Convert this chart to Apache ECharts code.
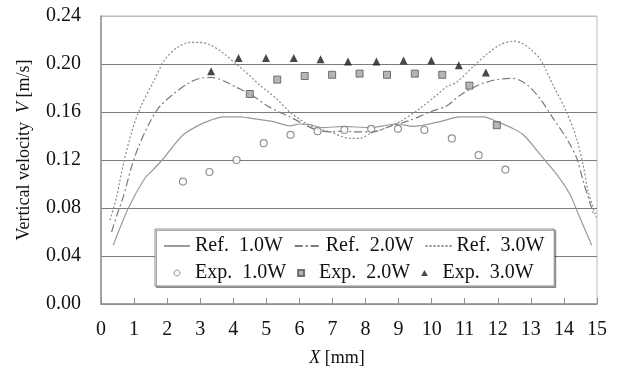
<!DOCTYPE html>
<html>
<head>
<meta charset="utf-8">
<script src="https://cdn.jsdelivr.net/npm/echarts@6/dist/echarts.min.js"></script>
<style>
  html, body { margin: 0; padding: 0; background: #fff; }
  #chart { width: 617px; height: 372px; }
</style>
</head>
<body>
<div id="chart"></div>
<script>
// Simulated vertical velocity profiles: X [mm], V [m/s]
const ref1X = [0.37, 0.83, 1.33, 1.58, 1.85, 2.14, 2.49, 2.89, 3.30, 3.70, 4.20, 4.71, 5.21, 5.71, 6.02, 6.32, 6.72, 7.33, 8.13, 8.94, 9.44, 10.25, 10.86, 11.56, 11.97, 12.40, 12.77, 13.30, 13.78, 14.18, 14.48, 14.84];
const ref1V = [0.049, 0.080, 0.105, 0.112, 0.120, 0.130, 0.141, 0.148, 0.153, 0.156, 0.156, 0.154, 0.152, 0.1485, 0.150, 0.1495, 0.147, 0.148, 0.147, 0.150, 0.148, 0.152, 0.156, 0.156, 0.152, 0.147, 0.141, 0.124, 0.108, 0.0915, 0.072, 0.049];

const ref2X = [0.32, 0.48, 0.67, 0.91, 1.12, 1.43, 1.73, 2.19, 2.69, 2.99, 3.35, 3.70, 4.10, 4.51, 5.01, 5.31, 5.71, 6.12, 6.52, 6.92, 7.33, 7.60, 8.23, 8.74, 9.34, 9.95, 10.45, 10.86, 11.46, 11.97, 12.47, 12.87, 13.28, 13.68, 14.08, 14.38, 14.58, 14.78, 14.88];
const ref2V = [0.060, 0.074, 0.089, 0.113, 0.130, 0.149, 0.163, 0.175, 0.1847, 0.188, 0.1888, 0.186, 0.1805, 0.175, 0.1655, 0.161, 0.156, 0.150, 0.145, 0.1435, 0.144, 0.1435, 0.1435, 0.148, 0.153, 0.160, 0.165, 0.174, 0.183, 0.187, 0.188, 0.183, 0.171, 0.1545, 0.138, 0.122, 0.1025, 0.085, 0.076];

const ref3X = [0.27, 0.47, 0.67, 0.93, 1.18, 1.58, 1.94, 2.29, 2.69, 2.99, 3.30, 3.70, 4.10, 4.51, 4.81, 5.01, 5.31, 5.71, 6.12, 6.52, 6.92, 7.53, 7.83, 8.13, 8.44, 9.04, 9.65, 10.15, 10.45, 10.76, 11.26, 11.66, 12.07, 12.47, 12.72, 13.00, 13.28, 13.68, 14.08, 14.38, 14.58, 14.73, 14.98];
const ref3V = [0.070, 0.089, 0.116, 0.1435, 0.163, 0.185, 0.204, 0.2134, 0.218, 0.218, 0.216, 0.209, 0.1997, 0.190, 0.182, 0.178, 0.171, 0.160, 0.152, 0.1463, 0.1435, 0.138, 0.138, 0.142, 0.145, 0.152, 0.163, 0.174, 0.181, 0.185, 0.198, 0.208, 0.216, 0.219, 0.2175, 0.212, 0.204, 0.182, 0.160, 0.138, 0.116, 0.094, 0.072];

// Measured points
const exp1X = [2.48, 3.28, 4.10, 4.92, 5.73, 6.55, 7.36, 8.17, 8.98, 9.78, 10.61, 11.42, 12.23];
const exp1V = [0.102, 0.110, 0.120, 0.134, 0.141, 0.144, 0.145, 0.146, 0.146, 0.145, 0.138, 0.124, 0.112];

const exp2X = [4.50, 5.33, 6.16, 6.99, 7.82, 8.65, 9.49, 10.32, 11.14, 11.97];
const exp2V = [0.175, 0.187, 0.190, 0.191, 0.192, 0.191, 0.192, 0.191, 0.182, 0.149];

const exp3X = [3.33, 4.16, 4.99, 5.83, 6.64, 7.47, 8.33, 9.15, 9.99, 10.82, 11.64];
const exp3V = [0.194, 0.205, 0.205, 0.205, 0.204, 0.202, 0.202, 0.203, 0.203, 0.199, 0.193];

const seriesNames = ['Ref.  1.0W', 'Ref.  2.0W', 'Ref.  3.0W', 'Exp.  1.0W', 'Exp.  2.0W', 'Exp.  3.0W'];

// Axis ticks
const xMin = 0, xMax = 15, xStep = 1;
const yMin = 0, yMax = 0.24, yStep = 0.04;

const FONT = '"Liberation Serif", "Times New Roman", serif';

// Legend marker shapes (kept square by the legend so they stay small)
const ICON_CIRCLE = 'path://M5,0C7.76,0,10,2.24,10,5C10,7.76,7.76,10,5,10C2.24,10,0,7.76,0,5C0,2.24,2.24,0,5,0Z';
const ICON_SQUARE = 'path://M0,0H10V10H0Z';
const ICON_TRIANGLE = 'path://M5,0L10,9H0Z';

function pairs(xs, ys) {
  return xs.map((x, i) => [x, ys[i]]);
}

function refLine(name, xs, ys, color, dash) {
  return {
    name: name,
    type: 'line',
    data: pairs(xs, ys),
    symbol: 'none',
    showSymbol: false,
    smooth: 0.3,
    z: 2,
    lineStyle: { color: color, width: 1.2, type: dash },
    itemStyle: { color: color }
  };
}

function expPoints(name, xs, ys, symbol, size, itemStyle) {
  return {
    name: name,
    type: 'scatter',
    data: pairs(xs, ys),
    symbol: symbol,
    symbolSize: size,
    z: 3,
    itemStyle: itemStyle
  };
}

const chart = echarts.init(document.getElementById('chart'), null, { renderer: 'canvas' });

chart.setOption({
  backgroundColor: '#fff',
  animation: false,
  grid: {
    left: 101, right: 20, top: 16, bottom: 64,
    show: true,
    borderColor: '#bdbdbd',
    borderWidth: 1
  },
  legend: {
    data: [
      { name: seriesNames[0], itemStyle: { opacity: 0 } },
      { name: seriesNames[1], itemStyle: { opacity: 0 } },
      { name: seriesNames[2], itemStyle: { opacity: 0 } },
      { name: seriesNames[3], icon: ICON_CIRCLE, itemStyle: { borderWidth: 1 } },
      { name: seriesNames[4], icon: ICON_SQUARE },
      { name: seriesNames[5], icon: ICON_TRIANGLE }
    ],
    left: 155,
    top: 229,
    width: 400,
    orient: 'horizontal',
    itemWidth: 26,
    itemHeight: 6,
    itemGap: 7,
    symbolKeepAspect: true,
    padding: [7, 6, 3, 8],
    backgroundColor: '#fff',
    borderColor: '#8c8c8c',
    borderWidth: 1,
    shadowColor: 'rgba(0,0,0,0.35)',
    shadowOffsetX: 1.5,
    shadowOffsetY: 1.5,
    shadowBlur: 0,
    textStyle: {
      fontFamily: FONT,
      fontSize: 20,
      lineHeight: 20,
      color: '#111',
      padding: [0, 4, 0, 0]
    }
  },
  xAxis: {
    type: 'value',
    min: xMin,
    max: xMax,
    interval: xStep,
    name: '{i|X} [mm]',
    nameLocation: 'middle',
    nameGap: 45,
    nameTextStyle: {
      fontFamily: FONT,
      fontSize: 18,
      color: '#111',
      padding: [0, 24, 0, 0],
      rich: {
        i: { fontFamily: FONT, fontSize: 18, fontStyle: 'italic', color: '#111' }
      }
    },
    axisLine: { show: true, lineStyle: { color: '#909090', width: 1.5 } },
    axisTick: { show: true, inside: true, length: 6, lineStyle: { color: '#909090', width: 1 } },
    axisLabel: { fontFamily: FONT, fontSize: 20, color: '#111', margin: 16 },
    splitLine: { show: false }
  },
  yAxis: {
    type: 'value',
    min: yMin,
    max: yMax,
    interval: yStep,
    name: '{n|Vertical velocity}  {i|V} {n|[m/s]}',
    nameLocation: 'middle',
    nameGap: 68,
    nameTextStyle: {
      fontFamily: FONT,
      fontSize: 18,
      color: '#111',
      padding: [0, 0, 0, 20],
      rich: {
        n: { fontFamily: FONT, fontSize: 18, color: '#111' },
        i: { fontFamily: FONT, fontSize: 18, fontStyle: 'italic', color: '#111' }
      }
    },
    axisLine: { show: true, lineStyle: { color: '#909090', width: 1.5 } },
    axisTick: { show: false },
    axisLabel: {
      fontFamily: FONT, fontSize: 20, color: '#111', margin: 20,
      formatter: v => v.toFixed(2)
    },
    splitLine: {
      show: true,
      lineStyle: {
        color: ['#909090', '#7c7c7c', '#7c7c7c', '#7c7c7c', '#7c7c7c', '#7c7c7c', '#bdbdbd'],
        width: 1
      }
    }
  },
  series: [
    refLine(seriesNames[0], ref1X, ref1V, '#9a9a9a', 'solid'),
    refLine(seriesNames[1], ref2X, ref2V, '#7a7a7a', [8, 3, 2, 3]),
    refLine(seriesNames[2], ref3X, ref3V, '#8a8a8a', [2, 2]),
    expPoints(seriesNames[3], exp1X, exp1V, 'circle', 7,
      { color: '#fff', borderColor: '#777', borderWidth: 1.2 }),
    expPoints(seriesNames[4], exp2X, exp2V, 'rect', 7,
      { color: '#a3a3a3', borderColor: '#555', borderWidth: 1 }),
    expPoints(seriesNames[5], exp3X, exp3V, 'triangle', 8,
      { color: '#1a1a1a' })
  ]
});
</script>
</body>
</html>
